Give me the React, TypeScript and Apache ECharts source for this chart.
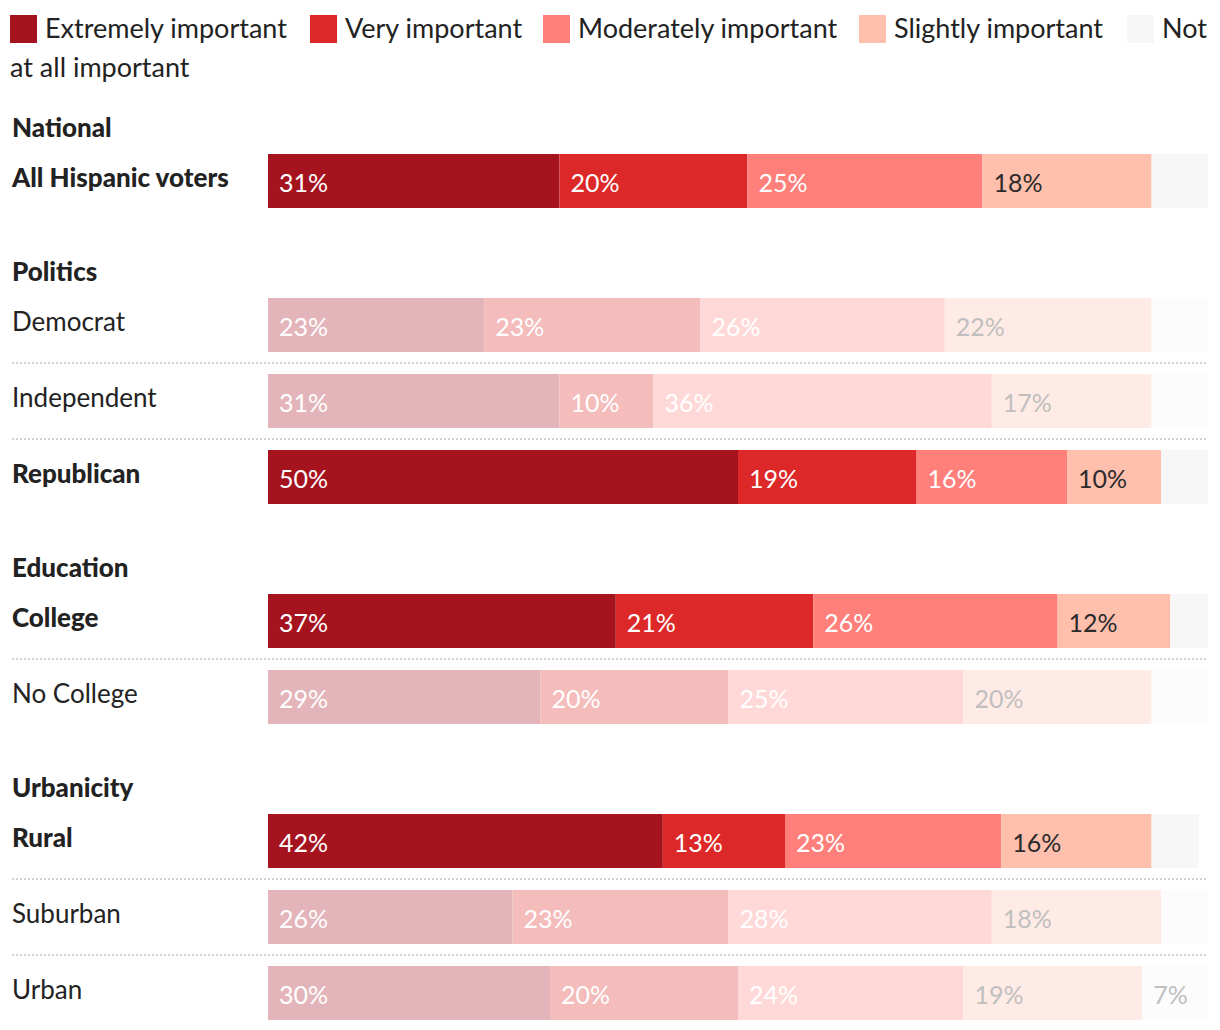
import React, { useEffect, useRef } from "react";
import * as echarts from "echarts";

const categories = [
  "Extremely important",
  "Very important",
  "Moderately important",
  "Slightly important",
  "Not at all important",
];
const groupNames = ["National", "Politics", "Education", "Urbanicity"];
const rowLabels = [
  "All Hispanic voters",
  "Democrat",
  "Independent",
  "Republican",
  "College",
  "No College",
  "Rural",
  "Suburban",
  "Urban",
];
const rowGroup = [0, 1, 1, 1, 2, 2, 3, 3, 3];
const rowHighlighted = [true, false, false, true, true, false, true, false, false];
const extremely = [31, 23, 31, 50, 37, 29, 42, 26, 30];
const very = [20, 23, 10, 19, 21, 20, 13, 23, 20];
const moderately = [25, 26, 36, 16, 26, 25, 23, 28, 24];
const slightly = [18, 22, 17, 10, 12, 20, 16, 18, 19];
const notAtAll = [6, 6, 6, 5, 4, 6, 5, 5, 7];

const seriesValues = [extremely, very, moderately, slightly, notAtAll];
const colors = ["#a5131f", "#dc2828", "#ff7f7b", "#ffbfad", "#f7f7f7"];
const dimColors = ["#e3b5ba", "#f4bcbb", "#ffd9d8", "#ffebe6", "#fcfcfc"];
const labelColors = ["#ffffff", "#ffffff", "#ffffff", "#2b2b2b", "#2b2b2b"];
const dimLabelColors = ["#ffffff", "#ffffff", "#ffffff", "#bfbfbf", "#bfbfbf"];

const FONT = "Lato, 'Noto Sans', sans-serif";
const TEXT = "#222222";

export default function App() {
  const ref = useRef<HTMLDivElement>(null);

  useEffect(() => {
    if (!ref.current) return;
    const chart = echarts.init(ref.current, undefined, { renderer: "svg" });

    const barLeft = 268;
    const barRight = 12;
    const barH = 54;
    const rowStep = 76;
    const groupExtra = 68;

    const tops: number[] = [];
    let y = 154;
    rowLabels.forEach((_, i) => {
      if (i > 0) {
        y += rowStep;
        if (rowGroup[i] !== rowGroup[i - 1]) y += groupExtra;
      }
      tops.push(y);
    });

    const grids = tops.map((t) => ({
      left: barLeft,
      right: barRight,
      top: t,
      height: barH,
      containLabel: false,
    }));
    const xAxes = tops.map((_, i) => ({
      type: "value",
      gridIndex: i,
      min: 0,
      max: 100,
      show: false,
    }));
    const yAxes = tops.map((_, i) => ({
      type: "category",
      gridIndex: i,
      data: [rowLabels[i]],
      show: false,
    }));

    const series: any[] = [];
    rowLabels.forEach((row, i) => {
      const hl = rowHighlighted[i];
      categories.forEach((cat, k) => {
        const v = seriesValues[k][i];
        series.push({
          type: "bar",
          name: cat,
          xAxisIndex: i,
          yAxisIndex: i,
          stack: "row" + i,
          barWidth: barH,
          data: [v],
          itemStyle: { color: hl ? colors[k] : dimColors[k] },
          label: {
            show: v >= 7,
            position: "insideLeft",
            distance: 11,
            formatter: "{c}%",
            color: hl ? labelColors[k] : dimLabelColors[k],
            fontFamily: FONT,
            fontSize: 25,
            offset: [0, 1],
          },
          emphasis: { disabled: true },
        });
      });
    });

    const graphic: any[] = [];
    const legendIconX = [10, 310, 543, 859, 1127];
    const legendText = ["Extremely important", "Very important", "Moderately important", "Slightly important", "Not"];
    legendIconX.forEach((x, k) => {
      graphic.push({
        type: "rect",
        shape: { x, y: 15, width: 27, height: 28 },
        style: { fill: colors[k] },
      });
      graphic.push({
        type: "text",
        x: x + 35,
        y: 27,
        style: {
          text: legendText[k],
          fill: TEXT,
          font: `27px ${FONT}`,
          textVerticalAlign: "middle",
          verticalAlign: "middle",
        },
      });
    });
    graphic.push({
      type: "text",
      x: 10,
      y: 66,
      style: {
        text: "at all important",
        fill: TEXT,
        font: `27px ${FONT}`,
        textVerticalAlign: "middle",
        verticalAlign: "middle",
      },
    });

    rowLabels.forEach((row, i) => {
      if (i === 0 || rowGroup[i] !== rowGroup[i - 1]) {
        graphic.push({
          type: "text",
          x: 12,
          y: tops[i] - 27,
          style: {
            text: groupNames[rowGroup[i]],
            fill: TEXT,
            font: `900 26px ${FONT}`,
            textVerticalAlign: "middle",
            verticalAlign: "middle",
          },
        });
      } else {
        graphic.push({
          type: "line",
          shape: { x1: 12, y1: tops[i] - 11, x2: 1208, y2: tops[i] - 11 },
          style: { stroke: "#d2d2d2", lineWidth: 2, lineDash: [2, 2] },
        });
      }
      graphic.push({
        type: "text",
        x: 12,
        y: tops[i] + barH / 2 - 4,
        style: {
          text: row,
          fill: TEXT,
          font: `${rowHighlighted[i] ? "900 " : ""}26px ${FONT}`,
          textVerticalAlign: "middle",
          verticalAlign: "middle",
        },
      });
    });

    chart.setOption({
      animation: false,
      backgroundColor: "#ffffff",
      grid: grids,
      xAxis: xAxes,
      yAxis: yAxes,
      series,
      graphic,
      tooltip: { show: false },
    });

    return () => chart.dispose();
  }, []);

  return (
    <div
      ref={ref}
      style={{ position: "absolute", left: 0, top: 0, width: 1220, height: 1030 }}
    />
  );
}
